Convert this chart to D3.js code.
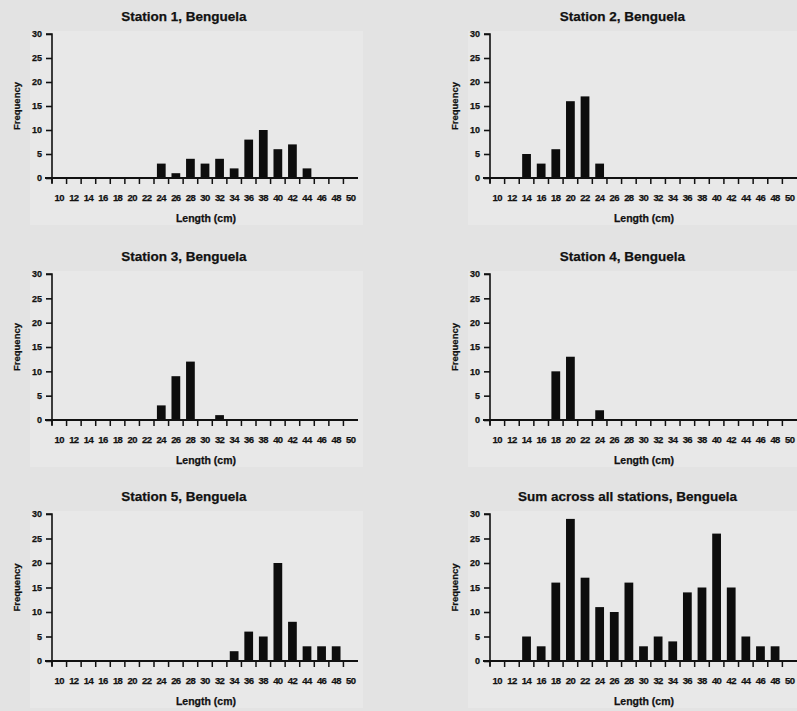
<!DOCTYPE html>
<html>
<head>
<meta charset="utf-8">
<script src="https://cdn.jsdelivr.net/npm/d3@7"></script>
<style>
  body { margin: 0; background: #e3e3e3; }
  svg text { font-family: "Liberation Sans", Arial, sans-serif; font-weight: bold; fill: #111;
             stroke: #111; stroke-width: 0.25px; }
</style>
</head>
<body>
<div id="plot"></div>
<script>
// Length classes (cm)
var lengths = d3.range(10, 51, 2);

// Frequencies per length class
var station1 = {24: 3, 26: 1, 28: 4, 30: 3, 32: 4, 34: 2, 36: 8, 38: 10, 40: 6, 42: 7, 44: 2};
var station2 = {14: 5, 16: 3, 18: 6, 20: 16, 22: 17, 24: 3};
var station3 = {24: 3, 26: 9, 28: 12, 32: 1};
var station4 = {18: 10, 20: 13, 24: 2};
var station5 = {34: 2, 36: 6, 38: 5, 40: 20, 42: 8, 44: 3, 46: 3, 48: 3};
var sumAll = {14: 5, 16: 3, 18: 16, 20: 29, 22: 17, 24: 11, 26: 10, 28: 16, 30: 3, 32: 5,
              34: 4, 36: 14, 38: 15, 40: 26, 42: 15, 44: 5, 46: 3, 48: 3};

var titles = ["Station 1, Benguela", "Station 2, Benguela", "Station 3, Benguela",
              "Station 4, Benguela", "Station 5, Benguela", "Sum across all stations, Benguela"];
var series = [station1, station2, station3, station4, station5, sumAll];
var yTicks = [0, 5, 10, 15, 20, 25, 30];

var width = 797, height = 711;

// panel frames: x0 = y axis, x1 = end of x axis, top = value 30, bottom = value 0
var columns = [{x0: 52, x1: 358}, {x0: 490, x1: 797}];
var rows = [{top: 34, bottom: 178}, {top: 274, bottom: 420}, {top: 514, bottom: 661}];

var svg = d3.select("div#plot").append("svg")
    .attr("width", width)
    .attr("height", height)
    .attr("viewBox", "0 0 " + width + " " + height);

svg.append("rect")
    .attr("width", width).attr("height", height)
    .attr("fill", "#e3e3e3");

series.forEach(function(s, i) {
    var col = columns[i % 2], row = rows[Math.floor(i / 2)];

    var x_scale = d3.scaleBand()
        .domain(lengths)
        .range([col.x0, col.x1])
        .paddingInner(0.4)
        .paddingOuter(0.2);

    var y_scale = d3.scaleLinear()
        .domain([0, 30])
        .range([row.bottom, row.top]);

    var g = svg.append("g");

    // slightly lighter plot area
    g.append("rect")
        .attr("x", col.x0 - 22)
        .attr("y", row.top - 3)
        .attr("width", Math.min(col.x1 + 5, width) - (col.x0 - 22))
        .attr("height", row.bottom - row.top + 50)
        .attr("fill", "#e8e8e8");

    // title
    g.append("text")
        .attr("x", (col.x0 + col.x1) / 2 - 21 + (i == 5 ? 5 : 0))
        .attr("y", row.top - 13)
        .attr("text-anchor", "middle")
        .style("font-size", "13.5px")
        .text(titles[i]);

    // bars
    var data = lengths.filter(function(l) { return s[l]; })
        .map(function(l) { return {len: l, n: s[l]}; });

    g.selectAll("rect.bar")
        .data(data)
        .join("rect")
            .attr("class", "bar")
            .attr("x", d => x_scale(d.len))
            .attr("y", d => y_scale(d.n))
            .attr("width", x_scale.bandwidth())
            .attr("height", d => y_scale(0) - y_scale(d.n))
            .attr("fill", "#0d0d0d");

    // y axis
    var y_axis = d3.axisLeft(y_scale)
        .tickValues(yTicks)
        .tickSize(6)
        .tickPadding(4);
    var gy = g.append("g")
        .attr("transform", "translate(" + col.x0 + ",0)")
        .call(y_axis);
    gy.select(".domain").attr("d", "M-6," + row.top + "H0V" + (row.bottom + 5));
    gy.selectAll("path, line").attr("stroke", "#111").attr("stroke-width", 1.6);
    gy.selectAll("text")
        .style("font-size", "9px")
        .attr("dy", "0.32em");

    // x axis: ticks between length classes
    var step = x_scale.step();
    var tickPos = d3.range(0, lengths.length).map(k => col.x0 + k * step);
    var gx = g.append("g");
    gx.append("line")
        .attr("x1", col.x0 - 7).attr("x2", col.x1)
        .attr("y1", row.bottom).attr("y2", row.bottom)
        .attr("stroke", "#111").attr("stroke-width", 1.8);
    gx.selectAll("line.tick")
        .data(tickPos)
        .join("line")
            .attr("class", "tick")
            .attr("x1", d => d).attr("x2", d => d)
            .attr("y1", row.bottom).attr("y2", row.bottom + 6)
            .attr("stroke", "#111").attr("stroke-width", 1.5);
    gx.selectAll("text")
        .data(lengths)
        .join("text")
            .attr("x", d => x_scale(d) + x_scale.bandwidth() / 2)
            .attr("y", row.bottom + 23)
            .attr("text-anchor", "middle")
            .style("font-size", "9.5px")
            .style("letter-spacing", "-0.6px")
            .text(d => d);

    // axis titles
    g.append("text")
        .attr("transform", "translate(" + (col.x0 - 32) + "," + ((row.top + row.bottom) / 2) + ") rotate(-90)")
        .attr("text-anchor", "middle")
        .style("font-size", "9.5px")
        .text("Frequency");

    g.append("text")
        .attr("x", col.x0 + 154)
        .attr("y", row.bottom + 44)
        .attr("text-anchor", "middle")
        .style("font-size", "10.5px")
        .text("Length (cm)");
});
</script>
</body>
</html>
